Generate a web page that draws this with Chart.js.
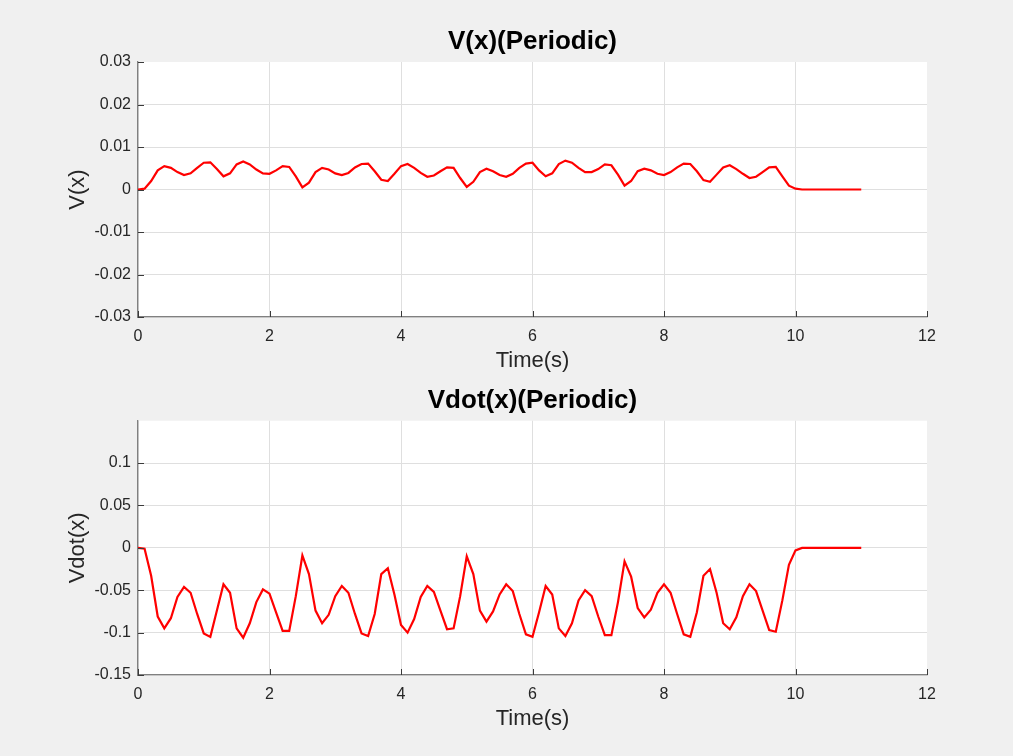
<!DOCTYPE html>
<html><head><meta charset="utf-8">
<script src="https://cdn.jsdelivr.net/npm/chart.js@4"></script>
<style>
html,body{margin:0;padding:0;background:#f0f0f0;width:1013px;height:756px;overflow:hidden;}
.box{position:absolute;left:0;width:1013px;height:378px;}
</style></head><body>
<div class="box" style="top:0"><canvas id="c1" width="1013" height="378"></canvas></div>
<div class="box" style="top:378px"><canvas id="c2" width="1013" height="378"></canvas></div>
<script>
const timeS = [0,0.1,0.2,0.3,0.4,0.5,0.6,0.7,0.8,0.9,
  1.0,1.1,1.2,1.3,1.4,1.5,1.6,1.7,1.8,1.9,
  2.0,2.1,2.2,2.3,2.4,2.5,2.6,2.7,2.8,2.9,
  3.0,3.1,3.2,3.3,3.4,3.5,3.6,3.7,3.8,3.9,
  4.0,4.1,4.2,4.3,4.4,4.5,4.6,4.7,4.8,4.9,
  5.0,5.1,5.2,5.3,5.4,5.5,5.6,5.7,5.8,5.9,
  6.0,6.1,6.2,6.3,6.4,6.5,6.6,6.7,6.8,6.9,
  7.0,7.1,7.2,7.3,7.4,7.5,7.6,7.7,7.8,7.9,
  8.0,8.1,8.2,8.3,8.4,8.5,8.6,8.7,8.8,8.9,
  9.0,9.1,9.2,9.3,9.4,9.5,9.6,9.7,9.8,9.9,
  10.0,10.1,10.2,10.3,10.4,10.5,10.6,10.7,10.8,10.9,11.0];

const vValues = [0,0.0002,0.002,0.0045,0.0055,0.0051,0.0041,0.0034,0.0038,0.0051,
  0.0063,0.0064,0.0048,0.0031,0.0038,0.0059,0.0066,0.0059,0.0047,0.0038,
  0.0037,0.0045,0.0055,0.0053,0.0031,0.0005,0.0016,0.0041,0.0051,0.0047,
  0.0038,0.0034,0.0039,0.0052,0.0060,0.0061,0.0043,0.0023,0.0020,0.0037,
  0.0055,0.0060,0.0051,0.0039,0.0030,0.0033,0.0043,0.0052,0.0051,0.0027,
  0.0006,0.0018,0.0041,0.0049,0.0043,0.0034,0.0030,0.0037,0.0051,0.0061,
  0.0063,0.0045,0.0031,0.0038,0.0060,0.0068,0.0063,0.0051,0.0041,0.0041,
  0.0048,0.0059,0.0057,0.0035,0.0009,0.0020,0.0043,0.0049,0.0045,0.0037,
  0.0034,0.0041,0.0052,0.0061,0.0060,0.0043,0.0022,0.0018,0.0035,0.0052,
  0.0057,0.0048,0.0037,0.0027,0.0030,0.0041,0.0052,0.0053,0.0031,0.0009,
  0.0002,0,0,0,0,0,0,0,0,0,0];

const vdotValues = [0,-0.001,-0.033,-0.081,-0.095,-0.083,-0.058,-0.046,-0.053,-0.078,
  -0.101,-0.105,-0.074,-0.043,-0.053,-0.095,-0.106,-0.089,-0.064,-0.049,
  -0.054,-0.076,-0.098,-0.098,-0.057,-0.009,-0.031,-0.074,-0.089,-0.079,
  -0.057,-0.045,-0.053,-0.078,-0.101,-0.104,-0.078,-0.031,-0.024,-0.055,
  -0.091,-0.100,-0.084,-0.058,-0.045,-0.052,-0.074,-0.096,-0.095,-0.057,
  -0.010,-0.031,-0.074,-0.087,-0.075,-0.055,-0.043,-0.051,-0.078,-0.102,
  -0.105,-0.076,-0.045,-0.055,-0.095,-0.104,-0.089,-0.062,-0.050,-0.057,
  -0.081,-0.103,-0.103,-0.064,-0.016,-0.034,-0.071,-0.082,-0.073,-0.053,
  -0.043,-0.053,-0.078,-0.102,-0.105,-0.076,-0.033,-0.025,-0.053,-0.089,
  -0.096,-0.082,-0.057,-0.043,-0.051,-0.074,-0.097,-0.099,-0.062,-0.020,
  -0.003,0,0,0,0,0,0,0,0,0,0];

const xTicks = [0,2,4,6,8,10,12];
const vTicks = [-0.03,-0.02,-0.01,0,0.01,0.02,0.03];
const vdotTicks = [-0.15,-0.1,-0.05,0,0.05,0.1];

const FONT = "'Liberation Sans', Arial, Helvetica, sans-serif";

const axesBg = {
  id: 'axesBg',
  beforeDraw(chart) {
    const {ctx, chartArea: a} = chart;
    ctx.save();
    ctx.fillStyle = '#ffffff';
    ctx.fillRect(a.left, a.top, a.right - a.left, a.bottom - a.top);
    ctx.restore();
  }
};
const innerTicks = {
  id: 'innerTicks',
  afterDraw(chart) {
    const {ctx, chartArea: a, scales: {x, y}} = chart;
    ctx.save();
    ctx.strokeStyle = '#3a3a3a';
    ctx.lineWidth = 1;
    ctx.beginPath();
    x.ticks.forEach(t => {
      const px = Math.round(x.getPixelForValue(t.value)) + 0.5;
      ctx.moveTo(px, a.bottom); ctx.lineTo(px, a.bottom - 6);
    });
    y.ticks.forEach(t => {
      const py = Math.round(y.getPixelForValue(t.value)) + 0.5;
      ctx.moveTo(a.left, py); ctx.lineTo(a.left + 6, py);
    });
    ctx.stroke();
    ctx.restore();
  }
};

function gridColor(max) {
  return c => (c.tick && c.tick.value === max) ? 'rgba(0,0,0,0)' : '#dfdfdf';
}

function makeChart(id, values, yTicks, yMin, yMax, title, yTitle, titlePadTop, padBottom) {
  return new Chart(document.getElementById(id), {
    type: 'line',
    data: {
      datasets: [{
        data: timeS.map((t, i) => ({x: t, y: values[i]})),
        borderColor: '#ff0000',
        borderWidth: 2.2,
        pointRadius: 0,
        tension: 0,
        fill: false
      }]
    },
    options: {
      responsive: false,
      animation: false,
      devicePixelRatio: 1,
      layout: {padding: {left: 48, right: 86, top: 0, bottom: padBottom}},
      plugins: {
        legend: {display: false},
        tooltip: {enabled: false},
        title: {
          display: true, text: title, fullSize: false, color: '#000000',
          font: {family: FONT, size: 26, weight: 'bold'},
          padding: {top: titlePadTop, bottom: 4.1}
        }
      },
      scales: {
        x: {
          type: 'linear', min: 0, max: 12,
          afterBuildTicks: s => { s.ticks = xTicks.map(v => ({value: v})); },
          afterFit: s => { s.height = 60; },
          ticks: {autoSkip: false, maxRotation: 0, padding: 10, color: '#262626',
                  font: {family: FONT, size: 16}, callback: v => String(v)},
          grid: {color: gridColor(12), lineWidth: 1, drawTicks: false},
          border: {display: true, color: '#808080', width: 1.3},
          title: {display: true, text: 'Time(s)', color: '#262626',
                  font: {family: FONT, size: 22}, padding: {top: 0, bottom: 3.1}}
        },
        y: {
          type: 'linear', min: yMin, max: yMax,
          afterBuildTicks: s => { s.ticks = yTicks.map(v => ({value: v})); },
          afterFit: s => { s.width = 90; },
          ticks: {autoSkip: false, padding: 7, color: '#262626',
                  font: {family: FONT, size: 16}, callback: v => String(v)},
          grid: {color: gridColor(yMax), lineWidth: 1, drawTicks: false},
          border: {display: true, color: '#808080', width: 1.3},
          title: {display: true, text: yTitle, color: '#262626',
                  font: {family: FONT, size: 22}, padding: {top: 16.5, bottom: 0}}
        }
      }
    },
    plugins: [axesBg, innerTicks]
  });
}

makeChart('c1', vValues, vTicks, -0.03, 0.03, 'V(x)(Periodic)', 'V(x)', 26.7, 1);
makeChart('c2', vdotValues, vdotTicks, -0.15, 0.15, 'Vdot(x)(Periodic)', 'Vdot(x)', 7.4, 21);
</script>
</body></html>
